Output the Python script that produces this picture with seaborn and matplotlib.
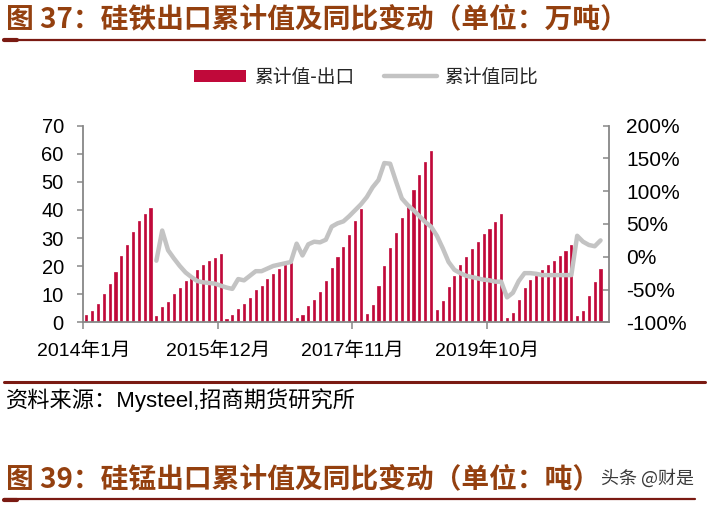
"""
硅铁出口累计值及同比变动: bars (cumulative exports, 万吨) + YoY line on a twin axis.
"""

import numpy as np
import pandas as pd
import seaborn as sns
import matplotlib.pyplot as plt
from matplotlib.lines import Line2D
from matplotlib.patches import Patch

# monthly categories, 2014-01 .. 2021-05
months = [f"{y}年{m}月" for y in range(2014, 2022) for m in range(1, 13)][:89]

# cumulative exports (万吨)
export_cum = [
    2.6, 4.0, 6.4, 10.2, 13.6, 18.0, 23.6, 27.6, 32.1, 36.1, 38.6, 40.8,   # 2014
    2.4, 5.6, 7.4, 10.2, 12.3, 14.7, 16.3, 18.7, 20.4, 21.7, 23.0, 24.3,   # 2015
    1.2, 2.7, 4.7, 6.4, 8.7, 11.4, 13.0, 15.3, 17.2, 19.1, 20.3, 21.0,     # 2016
    1.4, 2.7, 5.7, 7.9, 10.7, 14.6, 19.2, 23.4, 26.9, 31.2, 36.2, 40.5,    # 2017
    3.0, 6.2, 12.8, 19.9, 26.6, 31.9, 37.0, 41.2, 47.1, 52.4, 56.9, 61.0,  # 2018
    4.4, 7.6, 12.6, 16.6, 20.5, 23.2, 26.1, 28.7, 31.3, 33.3, 35.6, 38.4,  # 2019
    1.4, 3.3, 7.9, 12.3, 15.1, 16.6, 18.6, 20.3, 21.9, 23.6, 25.5, 27.5,   # 2020
    2.1, 3.9, 9.4, 14.2, 18.9,                                             # 2021
]

# cumulative YoY (%), starts 2015-01
yoy_pct = [np.nan] * 12 + [
    -6, 40, 10, -2.5, -14, -24, -31, -37, -39, -40, -41, -44,      # 2015
    -47, -49, -34, -36, -29, -22, -22, -18, -14, -12, -10, -8,     # 2016
    20, 2, 19, 23, 22, 26, 46, 51, 54, 62, 71, 80,                 # 2017
    91, 106, 117, 143, 142, 115, 89, 79, 71, 62, 53, 46,           # 2018
    32, 13, -8, -20, -25, -29, -31, -33, -35, -36, -38, -38,       # 2019
    -62, -55, -37, -25, -25, -26, -28, -28, -28, -28, -28, -28,    # 2020
    32, 23, 18, 16, 25,                                            # 2021
]

label_months = ['2014年1月', '2015年12月', '2017年11月', '2019年10月']
left_ticks = [0, 10, 20, 30, 40, 50, 60, 70]
right_ticks = [-100, -50, 0, 50, 100, 150, 200]

BAR_COLOR = '#C0093A'
LINE_COLOR = '#C3C3C3'
AXIS_COLOR = '#878787'
TITLE_COLOR = '#94400F'
RULE_COLOR = '#7A1A12'

df = pd.DataFrame({'month': months, 'export': export_cum, 'yoy': yoy_pct})

sns.set_style('ticks')
plt.rcParams['font.family'] = ['Liberation Sans', 'Noto Sans CJK SC']

fig = plt.figure(figsize=(7.09, 5.05), dpi=100)
ax = fig.add_axes([0.1175, 0.3618, 0.7419, 0.3893])

sns.barplot(data=df, x='month', y='export', color=BAR_COLOR, saturation=1,
            width=0.36, edgecolor=BAR_COLOR, linewidth=0.5, ax=ax)

ax2 = ax.twinx()
sns.lineplot(x=np.arange(len(df)), y=df['yoy'], ax=ax2, color=LINE_COLOR,
             lw=3.2)

ax.set_xlim(-0.5, len(months) + 0.5)
ax.set_ylim(0, 70)
ax2.set_ylim(-100, 200)

tick_pos = [months.index(m) - 0.5 for m in label_months]
ax.set_xticks(tick_pos, label_months)
ax.set_yticks(left_ticks, [str(v) for v in left_ticks])
ax2.set_yticks(right_ticks, [f'{v}%' for v in right_ticks])
ax.set_xlabel('')
ax.set_ylabel('')
ax2.set_ylabel('')

for s in ['top', 'right']:
    ax.spines[s].set_visible(False)
for s in ['top', 'left', 'bottom']:
    ax2.spines[s].set_visible(False)
for sp in [ax.spines['left'], ax.spines['bottom'], ax2.spines['right']]:
    sp.set_color(AXIS_COLOR)
    sp.set_linewidth(1.3)

ax.tick_params(axis='x', direction='out', length=5, width=1.1, color=AXIS_COLOR,
               pad=9, labelsize=14, labelcolor='black')
ax.tick_params(axis='y', direction='out', length=4, width=1.1, color=AXIS_COLOR,
               pad=10, labelsize=14.5, labelcolor='black')
ax2.tick_params(axis='y', direction='in', length=4, width=1.1, color=AXIS_COLOR,
                pad=12, labelsize=15, labelcolor='black')

# legend
handles = [Patch(facecolor=BAR_COLOR, edgecolor='none'),
           Line2D([], [], color=LINE_COLOR, lw=3.2)]
fig.legend(handles, ['累计值-出口', '累计值同比'], loc='center',
           bbox_to_anchor=(0.516, 0.8475), ncol=2, frameon=False,
           prop={'family': 'Noto Sans CJK SC', 'size': 13.5},
           handlelength=2.8, handleheight=0.55, handletextpad=0.4,
           columnspacing=1.6)

# header / footer decorations
fig.text(0.0085, 0.9624, '图 37：硅铁出口累计值及同比变动（单位：万吨）',
         fontsize=20, fontweight='bold', color=TITLE_COLOR, va='center',
         family=['Noto Sans CJK SC'])
fig.add_artist(Line2D([0.0056, 0.994], [0.9208, 0.9208], color=RULE_COLOR,
                      lw=1.6, transform=fig.transFigure))
fig.add_artist(Line2D([0.0056, 0.024], [0.9200, 0.9200], color=RULE_COLOR,
                      lw=3, transform=fig.transFigure))

fig.add_artist(Line2D([0.0056, 0.994], [0.2442, 0.2442], color=RULE_COLOR,
                      lw=2.2, transform=fig.transFigure))
fig.text(0.0085, 0.208, '资料来源：Mysteel,招商期货研究所', fontsize=16,
         color='black', va='center')

fig.text(0.0085, 0.0515, '图 39：硅锰出口累计值及同比变动（单位：吨）',
         fontsize=20, fontweight='bold', color=TITLE_COLOR, va='center',
         family=['Noto Sans CJK SC'])
fig.text(0.8477, 0.0535, '头条 @财是', fontsize=13, color='#3a3a3a',
         va='center', family=['Noto Sans CJK SC'])
fig.add_artist(Line2D([0.0056, 0.98], [0.0113, 0.0113], color=RULE_COLOR,
                      lw=1.6, transform=fig.transFigure))
fig.add_artist(Line2D([0.0056, 0.024], [0.0105, 0.0105], color=RULE_COLOR,
                      lw=3, transform=fig.transFigure))

fig.savefig('out.png', dpi=100)
